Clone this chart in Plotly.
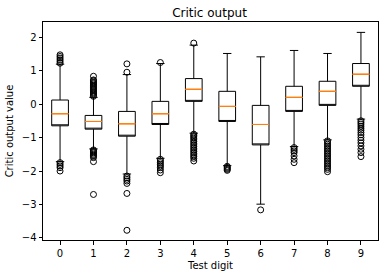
import plotly.graph_objects as go

digits = [0, 1, 2, 3, 4, 5, 6, 7, 8, 9]
lower_whisker = [-1.72, -1.34, -2.09, -1.62, -0.87, -1.84, -2.99, -1.27, -1.07, -0.45]
q1 = [-0.65, -0.75, -0.96, -0.61, 0.08, -0.52, -1.22, -0.22, -0.04, 0.53]
median = [-0.29, -0.52, -0.59, -0.29, 0.44, -0.07, -0.61, 0.20, 0.38, 0.89]
q3 = [0.12, -0.34, -0.22, 0.08, 0.76, 0.38, -0.04, 0.53, 0.68, 1.21]
upper_whisker = [1.19, 0.20, 0.88, 1.21, 1.76, 1.51, 1.41, 1.60, 1.51, 2.14]

outliers = {
    0: [1.22, 1.27, 1.32, 1.37, 1.42, 1.47, -1.75, -1.8, -1.85, -1.9, -2.0],
    1: [0.23, 0.26, 0.3, 0.33, 0.36, 0.4, 0.43, 0.46, 0.5, 0.53, 0.56, 0.6, 0.63, 0.66, 0.7, 0.72, 0.83,
        -1.37, -1.4, -1.43, -1.46, -1.5, -1.53, -1.56, -1.6, -1.72, -2.7],
    2: [0.95, 1.2, -2.15, -2.2, -2.25, -2.3, -2.37, -2.67, -3.77],
    3: [1.24, -1.65, -1.7, -1.75, -1.8, -1.85, -1.9, -1.97, -2.05],
    4: [1.82, -0.9, -0.94, -0.98, -1.02, -1.07, -1.12, -1.17, -1.22, -1.27, -1.32, -1.37, -1.42,
        -1.47, -1.52, -1.57, -1.62, -1.7],
    5: [-1.86, -1.89, -1.92, -1.95, -1.98],
    6: [-3.16],
    7: [-1.3, -1.35, -1.4, -1.45, -1.55, -1.65, -1.75],
    8: [-1.1, -1.15, -1.2, -1.25, -1.3, -1.35, -1.4, -1.45, -1.5, -1.55, -1.6, -1.65, -1.7,
        -1.75, -1.8, -1.85, -1.9, -1.95, -2.02],
    9: [-0.5, -0.55, -0.6, -0.66, -0.72, -0.78, -0.85, -0.92, -1.0, -1.08, -1.16, -1.25,
        -1.35, -1.45, -1.57],
}

fig = go.Figure()

# box bodies and whiskers (black); median drawn separately in orange
fig.add_trace(go.Box(
    x=digits, q1=q1, median=q1, q3=q3,
    lowerfence=lower_whisker, upperfence=upper_whisker,
    width=0.5, whiskerwidth=0.5,
    fillcolor="white", line=dict(color="black", width=1),
    boxpoints=False, showlegend=False, hoverinfo="skip",
))

# median lines in orange
fig.add_trace(go.Box(
    x=digits, q1=median, median=median, q3=median,
    lowerfence=median, upperfence=median,
    width=0.5, whiskerwidth=0,
    fillcolor="rgba(0,0,0,0)", line=dict(color="#ff7f0e", width=1),
    boxpoints=False, showlegend=False, hoverinfo="skip",
))

ox, oy = [], []
for d in digits:
    for v in outliers[d]:
        ox.append(d)
        oy.append(v)

fig.add_trace(go.Scatter(
    x=ox, y=oy, mode="markers",
    marker=dict(symbol="circle-open", size=6, color="black", line=dict(width=1, color="black")),
    showlegend=False, hoverinfo="skip",
))

axis_common = dict(
    showline=True, linecolor="black", linewidth=1, mirror=True,
    ticks="outside", ticklen=3.5, tickwidth=1, tickcolor="black",
    showgrid=False, zeroline=False, automargin=False,
    tickfont=dict(family="DejaVu Sans", size=10, color="black"),
)

fig.update_layout(
    width=388, height=278,
    margin=dict(l=43, r=10, t=22, b=38, autoexpand=False),
    paper_bgcolor="white", plot_bgcolor="white",
    boxmode="overlay",
    title=dict(text="Critic output", x=0.54, xanchor="center", y=0.955, yanchor="middle",
               font=dict(family="DejaVu Sans", size=12, color="black"), automargin=False),
    xaxis=dict(range=[-0.51, 9.51], tickvals=digits, ticktext=[str(d) for d in digits],
               title=dict(text="Test digit", font=dict(family="DejaVu Sans", size=10, color="black"), standoff=4),
               **axis_common),
    yaxis=dict(range=[-4.06, 2.45], tickvals=[-4, -3, -2, -1, 0, 1, 2],
               title=dict(text="Critic output value", font=dict(family="DejaVu Sans", size=10, color="black"), standoff=6),
               **axis_common),
)

fig.write_html("out.html", config={"displayModeBar": False, "staticPlot": True},
               post_script="document.body.style.margin='0';document.body.style.padding='0';")
